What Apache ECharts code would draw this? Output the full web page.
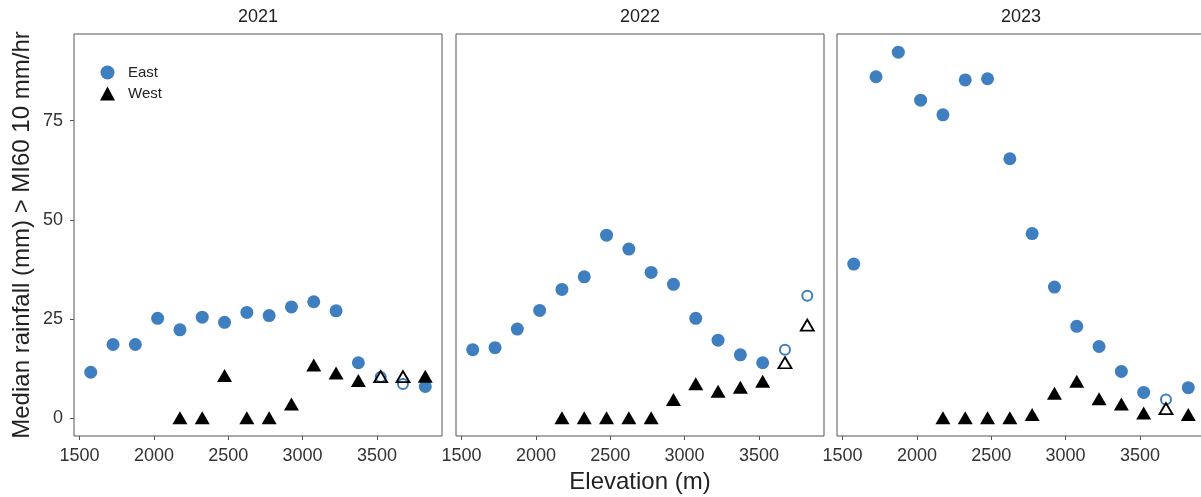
<!DOCTYPE html>
<html>
<head>
<meta charset="utf-8">
<script src="https://cdn.jsdelivr.net/npm/echarts@6/dist/echarts.min.js"></script>
<style>
  html, body { margin: 0; padding: 0; background: #fff; }
  #chart { width: 1201px; height: 497px; }
</style>
</head>
<body>
<div id="chart"></div>
<script>
// elevation bins (m), shared by all years
var elevation = [1575, 1725, 1875, 2025, 2175, 2325, 2475, 2625, 2775, 2925, 3075, 3225, 3375, 3525, 3675, 3825];
var years = ['2021', '2022', '2023'];

var east2021 = [11.5, 18.5, 18.5, 25.1, 22.2, 25.4, 24.1, 26.6, 25.8, 28.0, 29.3, 27.0, 13.9, 10.3, 8.5, 7.9];
var west2021 = [null, null, null, null, 0, 0, 10.7, 0, 0, 3.5, 13.3, 11.3, 9.4, 10.4, 10.4, 10.5];
var east2022 = [17.2, 17.7, 22.4, 27.1, 32.4, 35.6, 46.1, 42.6, 36.7, 33.7, 25.1, 19.6, 15.9, 13.9, 17.2, 30.8];
var west2022 = [null, null, null, null, 0, 0, 0, 0, 0, 4.6, 8.6, 6.7, 7.7, 9.2, 13.9, 23.4];
var east2023 = [38.8, 86.1, 92.3, 80.2, 76.5, 85.3, 85.6, 65.4, 46.5, 33.0, 23.1, 18.0, 11.7, 6.4, 4.6, 7.6];
var west2023 = [null, null, null, null, 0, 0, 0, 0, 0.8, 6.2, 9.2, 4.8, 3.5, 1.2, 2.3, 0.8];

// open symbols = incomplete record at that elevation
var partial2021 = [3525, 3675];
var partial2022 = [3675, 3825];
var partial2023 = [3675];

var xTicks = [1500, 2000, 2500, 3000, 3500];
var yTicks = [0, 25, 50, 75];

var eastByYear = [east2021, east2022, east2023];
var westByYear = [west2021, west2022, west2023];
var partialByYear = [partial2021, partial2022, partial2023];

var blue = '#3f7fbf';
var fontFam = '"Liberation Sans", Arial, sans-serif';

function pick(vals, partial, wantOpen) {
    var out = [];
    for (var i = 0; i < elevation.length; i++) {
        if (vals[i] == null) continue;
        var isOpen = partial.indexOf(elevation[i]) >= 0;
        if (isOpen === wantOpen) out.push([elevation[i], vals[i]]);
    }
    return out;
}

var gridLefts = [74, 456, 837];
var grids = [], xAxes = [], yAxes = [], series = [], graphics = [];

for (var g = 0; g < 3; g++) {
    grids.push({
        left: gridLefts[g], top: 34, width: 368, height: 402,
        outerBoundsMode: 'none', containLabel: false,
        show: true, borderColor: '#555', borderWidth: 1, backgroundColor: '#fff'
    });
    xAxes.push({
        gridIndex: g, type: 'value', min: 1462.5, max: 3937.5,
        splitLine: { show: false },
        axisLine: { show: false, onZero: false },
        axisTick: { show: true, length: 4, lineStyle: { color: '#555' }, customValues: xTicks },
        axisLabel: {
            color: '#333', fontSize: 18, fontFamily: fontFam, margin: 11, customValues: xTicks,
            formatter: function (v) { return String(v); }
        },
        name: g === 1 ? 'Elevation (m)' : '',
        nameLocation: 'middle', nameGap: 34,
        nameTextStyle: { color: '#222', fontSize: 24, fontFamily: fontFam }
    });
    yAxes.push({
        gridIndex: g, type: 'value', min: -4.6, max: 96.9,
        splitLine: { show: false },
        axisLine: { show: false, onZero: false },
        axisTick: { show: g === 0, length: 4, lineStyle: { color: '#555' }, customValues: yTicks },
        axisLabel: { show: g === 0, color: '#333', fontSize: 18, fontFamily: fontFam, margin: 11, customValues: yTicks },
        name: g === 0 ? 'Median rainfall (mm) > MI60 10 mm/hr' : '',
        nameLocation: 'middle', nameGap: 40,
        nameTextStyle: { color: '#222', fontSize: 24, fontFamily: fontFam }
    });

    var e = eastByYear[g], w = westByYear[g], p = partialByYear[g];
    series.push({
        name: 'East', type: 'scatter', xAxisIndex: g, yAxisIndex: g,
        symbol: 'circle', symbolSize: 13,
        itemStyle: { color: blue, opacity: 1 },
        data: pick(e, p, false)
    });
    series.push({
        name: 'East partial', type: 'scatter', xAxisIndex: g, yAxisIndex: g,
        symbol: 'circle', symbolSize: 10,
        itemStyle: { color: '#fff', borderColor: blue, borderWidth: 2, opacity: 1 },
        data: pick(e, p, true)
    });
    series.push({
        name: 'West', type: 'scatter', xAxisIndex: g, yAxisIndex: g,
        symbol: 'triangle', symbolSize: [15, 13],
        itemStyle: { color: '#000', opacity: 1 },
        data: pick(w, p, false)
    });
    series.push({
        name: 'West partial', type: 'scatter', xAxisIndex: g, yAxisIndex: g,
        symbol: 'triangle', symbolSize: [13, 11],
        itemStyle: { color: 'rgba(255,255,255,0)', borderColor: '#000', borderWidth: 1.8, opacity: 1 },
        data: pick(w, p, true)
    });

    // facet strip label
    graphics.push({
        type: 'text', x: gridLefts[g] + 184, y: 17,
        style: { text: years[g], fontSize: 18, fontFamily: fontFam, fill: '#222',
                 textAlign: 'center', textVerticalAlign: 'middle' }
    });
}

var chart = echarts.init(document.getElementById('chart'));
chart.setOption({
    animation: false,
    backgroundColor: '#fff',
    grid: grids,
    xAxis: xAxes,
    yAxis: yAxes,
    legend: {
        data: [{ name: 'East', icon: 'circle' }, { name: 'West', icon: 'triangle' }],
        orient: 'vertical', left: 95, top: 60,
        itemWidth: 15, itemHeight: 14, itemGap: 6,
        textStyle: { fontSize: 15, fontFamily: fontFam, color: '#222', padding: [0, 0, 0, 8] },
        selectedMode: false
    },
    graphic: graphics,
    series: series
});
</script>
</body>
</html>
